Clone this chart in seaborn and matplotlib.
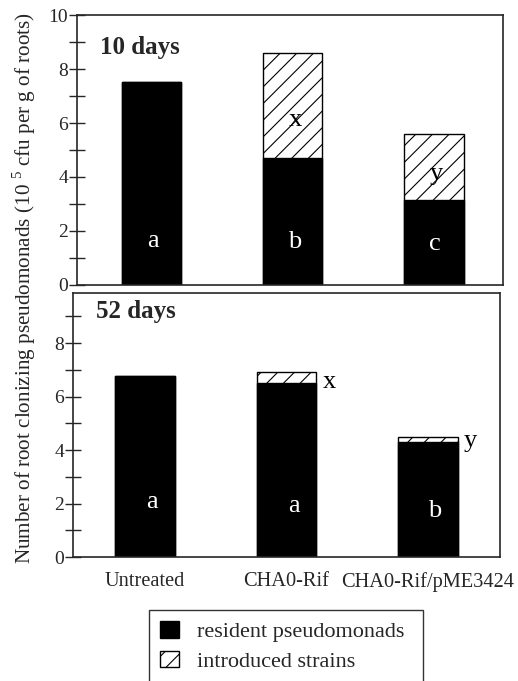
import matplotlib
matplotlib.use("Agg")
import matplotlib.pyplot as plt
import seaborn as sns
import pandas as pd
from matplotlib.patches import Patch

sns.set_style("ticks")
plt.rcParams['font.family'] = ['Liberation Serif', 'DejaVu Serif']
plt.rcParams['mathtext.fontset'] = 'custom'
plt.rcParams['mathtext.rm'] = 'Liberation Serif'
plt.rcParams['hatch.linewidth'] = 0.8

categories = ["Untreated", "CHA0-Rif", "CHA0-Rif/pME3424"]
resident_10 = [7.5, 4.7, 3.15]
total_10 = [7.5, 8.6, 5.6]
resident_52 = [6.75, 6.5, 4.3]
total_52 = [6.75, 6.9, 4.5]
letters_res_10 = ["a", "b", "c"]
letters_intro_10 = ["", "x", "y"]
letters_res_52 = ["a", "a", "b"]
letters_intro_52 = ["", "x", "y"]
panel_titles = ["10 days", "52 days"]
legend_labels = ["resident pseudomonads", "introduced strains"]
ylabel = "Number of root clonizing pseudomonads (10 $^{\\mathregular{5}}$ cfu per g of roots)"

fig = plt.figure(figsize=(5.18, 6.81), dpi=100)
ax1 = fig.add_axes([77/518, 1-285/681, 426/518, 270/681])
ax2 = fig.add_axes([73/518, 1-557/681, 427/518, 264/681])


def panel(ax, resident, total, title, title_y, ymax, xlim):
    df = pd.DataFrame({"cat": categories, "res": resident, "tot": total})
    sns.barplot(data=df, x="cat", y="tot", color="white", edgecolor="black",
                linewidth=1.0, width=0.42, ax=ax, saturation=1)
    for p in ax.patches:
        p.set_hatch("//")
    sns.barplot(data=df, x="cat", y="res", color="black", edgecolor="black",
                linewidth=1.0, width=0.42, ax=ax, saturation=1)
    ax.set_ylim(0, ymax)
    ax.set_xlim(*xlim)
    ax.set_yticks([0, 2, 4, 6, 8, 10] if ymax >= 10 else [0, 2, 4, 6, 8])
    ax.set_yticks([1, 3, 5, 7, 9], minor=True)
    ax.tick_params(axis="y", which="both", direction="inout", length=11,
                   width=1, labelsize=14, pad=1)
    ax.tick_params(axis="x", length=0, labelsize=14.7, pad=11)
    ax.set_xlabel("")
    ax.set_ylabel("")
    for s in ax.spines.values():
        s.set_visible(True)
        s.set_linewidth(1.2)
    ax.text(0.055, title_y, title, transform=ax.transAxes, fontsize=18,
            fontweight="bold", ha="left", va="center")


panel(ax1, resident_10, total_10, panel_titles[0], 0.88, 10, (-0.53, 2.49))
ax1.set_xticklabels([])
res_y10 = [1.4, 1.37, 1.3]
intro_y10 = [0, 5.9, 3.9]
for i in range(3):
    ax1.text(i + 0.01, res_y10[i], letters_res_10[i], color="white", fontsize=19,
             ha="center", va="baseline")
    if letters_intro_10[i]:
        ax1.text(i + 0.02, intro_y10[i], letters_intro_10[i], color="black",
                 fontsize=19, ha="center", va="baseline")

panel(ax2, resident_52, total_52, panel_titles[1], 0.93, 9.87, (-0.51, 2.51))
res_y52 = [1.83, 1.68, 1.5]
intro_y52 = [0, 6.3, 4.1]
for i in range(3):
    ax2.text(i + 0.05, res_y52[i], letters_res_52[i], color="white", fontsize=19,
             ha="center", va="baseline")
    if letters_intro_52[i]:
        ax2.text(i + 0.3, intro_y52[i], letters_intro_52[i], color="black",
                 fontsize=19, ha="center", va="baseline")

fig.text(24/518, 1-288/681, ylabel, rotation=90, ha="center", va="center",
         fontsize=15.2)

handles = [Patch(facecolor="black", edgecolor="black", label=legend_labels[0]),
           Patch(facecolor="white", edgecolor="black", hatch="//", label=legend_labels[1])]
leg = fig.legend(handles=handles, loc="lower left",
                 bbox_to_anchor=(149/518, -0.003, 274/518, 0.1), mode="expand",
                 frameon=True, fancybox=False, fontsize=16, handlelength=0.85,
                 handleheight=0.77, handletextpad=0.8, borderpad=0.5,
                 labelspacing=0.4, borderaxespad=0)
leg.get_frame().set_edgecolor("black")
leg.get_frame().set_linewidth(1.0)

fig.savefig("out.png", dpi=100)
